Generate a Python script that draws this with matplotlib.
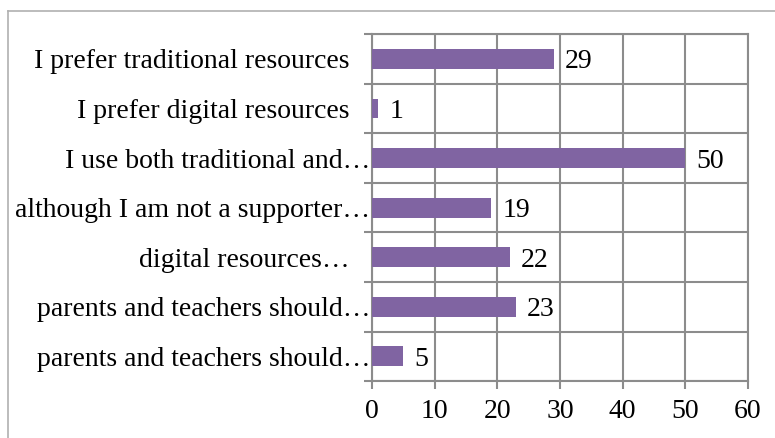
import numpy as np
import matplotlib
matplotlib.use("Agg")
import matplotlib.pyplot as plt
from matplotlib.lines import Line2D

# Categories (top to bottom) and counts
labels = [
    "I prefer traditional resources   ",
    "I prefer digital resources   ",
    "I use both traditional and\u2026",
    "although I am not a supporter\u2026",
    "digital resources\u2026   ",
    "parents and teachers should\u2026",
    "parents and teachers should\u2026",
]
values = [29, 1, 50, 19, 22, 23, 5]
xticks = [0, 10, 20, 30, 40, 50, 60]

bar_color = "#8064A2"
grid_color = "#8c8c8c"
fs = 20

plt.rcParams["font.family"] = ["Liberation Serif", "DejaVu Serif"]

fig = plt.figure(figsize=(7.75, 4.38), dpi=100)
ax = fig.add_axes([0.48, 0.130, 0.485, 0.792])

y = np.arange(len(labels))
ax.barh(y, values, height=0.4, color=bar_color, zorder=3)

for yi, v in zip(y, values):
    ax.annotate(str(v), (v, yi), xytext=(8, 0), textcoords="offset points",
                va="center_baseline", ha="left", fontsize=fs, color="black")

ax.set_xlim(0, 60)
ax.set_ylim(len(labels) - 0.5, -0.5)
ax.set_xticks(xticks)
ax.set_xticklabels([str(t) for t in xticks], fontsize=fs)
ax.set_yticks(y)
ax.set_yticklabels(labels, fontsize=fs, va="center_baseline")
ax.tick_params(axis="y", which="major", length=0, pad=1)
ax.set_yticks(np.arange(len(labels) + 1) - 0.5, minor=True)
ax.tick_params(axis="y", which="minor", length=6, color=grid_color, width=1.5)
ax.tick_params(axis="x", length=6, color=grid_color, width=1.5, pad=7)

ax.grid(axis="x", which="major", color=grid_color, linewidth=1.5, zorder=0)
ax.grid(axis="y", which="minor", color=grid_color, linewidth=1.5, zorder=0)
for s in ax.spines.values():
    s.set_color(grid_color)
    s.set_linewidth(1.5)

# outer chart border (top and left visible)
x0, y0 = 8 / 775, 1 - 11 / 438
fig.add_artist(Line2D([x0, 1], [y0, y0], color="#b0b0b0", linewidth=1.2, transform=fig.transFigure))
fig.add_artist(Line2D([x0, x0], [0, y0], color="#b0b0b0", linewidth=1.2, transform=fig.transFigure))

fig.savefig("out.png", dpi=100)
